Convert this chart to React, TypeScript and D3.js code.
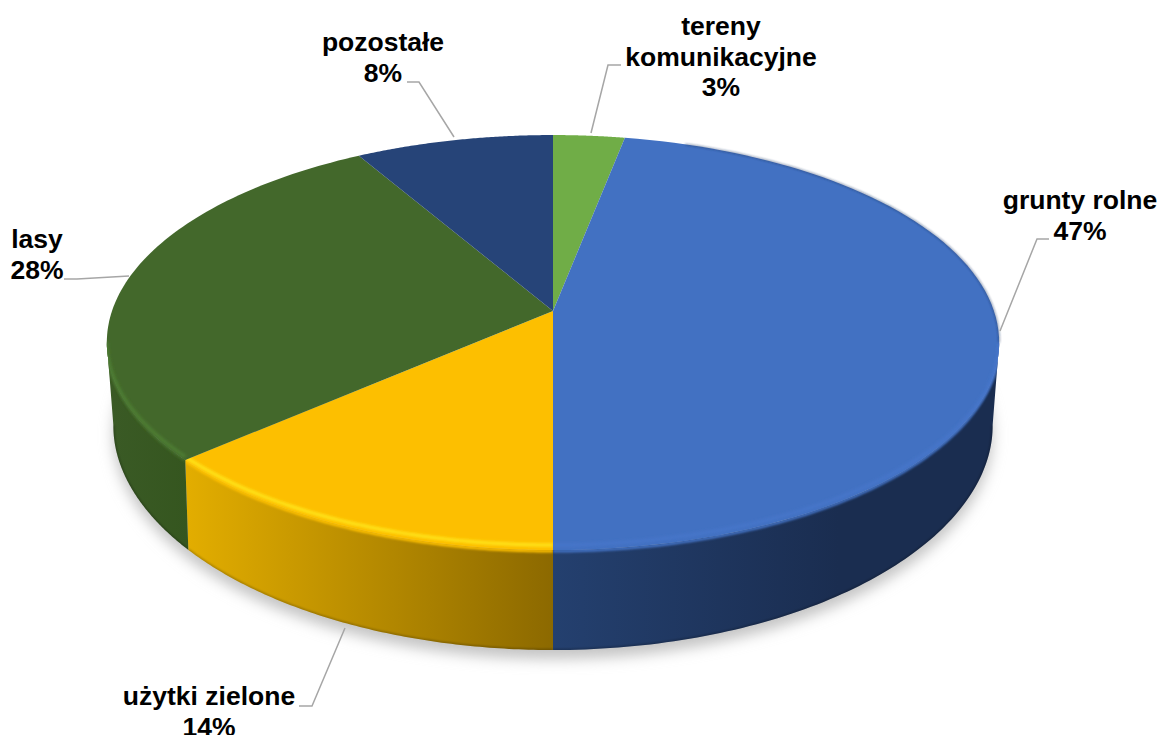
import React from "react";
import * as d3 from "d3";

const categories = ["tereny komunikacyjne", "grunty rolne", "użytki zielone", "lasy", "pozostałe"];
const drawnShares = [3, 47, 13.5, 28.2, 8.3];
const topColors = ["#70ad47", "#4271c2", "#fdbf00", "#43682b", "#264478"];
const sideLeftColors = ["#4f7a32", "#24406f", "#e2ad00", "#3a5a25", "#1c3358"];
const sideRightColors = ["#4f7a32", "#1a2d50", "#8c6900", "#35561f", "#1c3358"];
const sideStops = [1, 0.65, 1, 1, 1];
const rimColors = ["#8cc864", "#4676ca", "#ffe81a", "#4f8034", "#2d5190"];

const labelLines = [
  ["tereny", "komunikacyjne", "3%"],
  ["grunty rolne", "47%"],
  ["użytki zielone", "14%"],
  ["lasy", "28%"],
  ["pozostałe", "8%"],
];
const labelAnchors: [number, number][] = [[721, 35], [1080, 209], [209, 705], [37, 248], [383, 51]];
const leaders: [number, number][][] = [
  [[621, 65], [608, 65], [591, 133]],
  [[1049, 239], [1037, 239], [1000, 331]],
  [[299, 706], [312, 706], [345, 628]],
  [[64, 279], [77, 279], [129, 276]],
  [[407, 82], [419, 82], [454, 137]],
];

const CX = 553, CY = 311, K = 0.152, A = 202.7, B = 441;

function topPoint(theta: number): [number, number] {
  const u = Math.sin(theta), v = Math.cos(theta), s = 1 + K * v;
  return [CX + (B * u) / s, CY - (A * v) / s];
}
function liftedPoint(theta: number, lift: number): [number, number] {
  const [x, y] = topPoint(theta);
  const v = Math.min(0, Math.cos(theta));
  return [x, y - lift * Math.abs(v)];
}
function bottomPoint(theta: number): [number, number] {
  const [x, y] = topPoint(theta);
  const v = Math.cos(theta);
  const shrink = 0.985 + 0.015 * v * v;
  return [CX + (x - CX) * shrink, y + 82 + 18 * v * v];
}
const line = d3.line<[number, number]>();
function sample(a: number, b: number, n = 90) {
  return d3.range(n + 1).map((i) => a + ((b - a) * i) / n);
}

const silR = Math.acos(-K);
const silL = 2 * Math.PI - silR;

export default function App() {
  const arcs = d3.pie<number>().sort(null)(drawnShares);
  const shadowPts = sample(silR - 0.2, silL + 0.2, 120).map(bottomPoint);
  const shadowClosed = line(shadowPts) + "Z";

  return (
    <svg width={1161} height={735} style={{ position: "absolute", left: 0, top: 0, background: "#fff" }}
      fontFamily="'Liberation Sans', Arial, sans-serif">
      <defs>
        <filter id="blurShadow" x="-10%" y="-10%" width="120%" height="130%"><feGaussianBlur stdDeviation="7" /></filter>
        <filter id="blurRim" x="-10%" y="-10%" width="120%" height="120%"><feGaussianBlur stdDeviation="1.5" /></filter>
        <filter id="blurEdge" x="-10%" y="-10%" width="120%" height="120%"><feGaussianBlur stdDeviation="1.2" /></filter>
        {arcs.map((d, i) => {
          const start = Math.max(d.startAngle, silR), end = Math.min(d.endAngle, silL);
          if (end <= start) return null;
          const xs = sample(start, end, 40).map((t) => bottomPoint(t)[0]);
          const scale = d3.scaleLinear().domain([d3.min(xs)!, d3.max(xs)!]);
          const leftDark = xs[0] > xs[xs.length - 1];
          return (
            <linearGradient key={i} id={`side${i}`} gradientUnits="userSpaceOnUse"
              x1={scale.invert(0)} x2={scale.invert(1)} y1={0} y2={0}>
              {leftDark && sideStops[i] < 1 ? (
                <>
                  <stop offset="0" stopColor={sideLeftColors[i]} />
                  <stop offset={sideStops[i]} stopColor={sideRightColors[i]} />
                  <stop offset="1" stopColor={sideRightColors[i]} />
                </>
              ) : (
                <>
                  <stop offset="0" stopColor={sideLeftColors[i]} />
                  <stop offset="1" stopColor={sideRightColors[i]} />
                </>
              )}
            </linearGradient>
          );
        })}
        {arcs.map((d, i) => {
          const start = Math.max(d.startAngle, silR), end = Math.min(d.endAngle, silL);
          if (end <= start) return null;
          const ts = sample(start, end);
          const path = line(ts.map((t) => topPoint(t)).concat(ts.slice().reverse().map(bottomPoint))) + "Z";
          const wedge = line([[CX, CY] as [number, number], ...sample(d.startAngle, d.endAngle).map((t) => topPoint(t))]) + "Z";
          return <clipPath key={i} id={`clip${i}`}><path d={path + wedge} /></clipPath>;
        })}
      </defs>

      <path d={shadowClosed} transform="translate(0,9)" fill="#c4c4c4" filter="url(#blurShadow)" />

      {arcs.map((d, i) => {
        const start = Math.max(d.startAngle, silR), end = Math.min(d.endAngle, silL);
        const wedge = line([[CX, CY] as [number, number], ...sample(d.startAngle, d.endAngle).map((t) => topPoint(t))]) + "Z";
        if (end <= start) return <path key={i} d={wedge} fill={topColors[i]} />;
        const ts = sample(start, end);
        const side = line(ts.map((t) => topPoint(t)).concat(ts.slice().reverse().map(bottomPoint))) + "Z";
        const edge = line(ts.map((t) => liftedPoint(t, -1))) || "";
        const rim = line(ts.map((t) => liftedPoint(t, 5))) || "";
        const base = line(ts.map(bottomPoint)) || "";
        return (
          <g key={i}>
            <path d={side} fill={`url(#side${i})`} />
            <path d={wedge} fill={topColors[i]} />
            <g clipPath={`url(#clip${i})`}>
              <path d={edge} fill="none" stroke={topColors[i]} strokeWidth={3} filter="url(#blurEdge)" />
              <path d={rim} fill="none" stroke={rimColors[i]} strokeWidth={3} filter="url(#blurRim)" />
              <path d={base} fill="none" stroke="#000" strokeOpacity={0.25} strokeWidth={2.5} filter="url(#blurEdge)" />
            </g>
          </g>
        );
      })}

      <path d={line(sample(0.35, silR).map((t) => topPoint(t))) || ""} fill="none" stroke="#1f3864" strokeOpacity={0.6}
        strokeWidth={1.5} filter="url(#blurEdge)" />

      {leaders.map((pts, i) => (
        <path key={i} d={line(pts) || ""} fill="none" stroke="#a6a6a6" strokeWidth={1.5} />
      ))}

      {labelLines.map((lines, i) => (
        <text key={categories[i]} x={labelAnchors[i][0]} y={labelAnchors[i][1]} textAnchor="middle"
          fontSize={26.5} fontWeight={700} fill="#000">
          {lines.map((t, j) => (
            <tspan key={j} x={labelAnchors[i][0]} dy={j === 0 ? 0 : 30.5}>{t}</tspan>
          ))}
        </text>
      ))}
    </svg>
  );
}
